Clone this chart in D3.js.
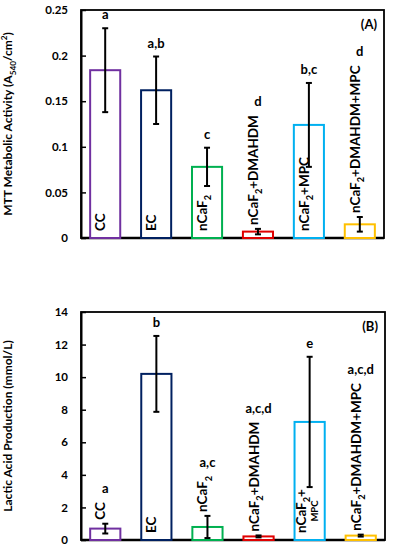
<!DOCTYPE html>
<html>
<head>
<meta charset="utf-8">
<script src="https://cdn.jsdelivr.net/npm/d3@7"></script>
<style>
  body { margin: 0; background: #fff; }
  svg { display: block; font-family: Lato, "Open Sans", sans-serif; font-weight: bold; }
</style>
</head>
<body>
<svg id="chart" width="393" height="550"></svg>
<script>
// groups + colours shared by both panels
var groups = ["CC", "EC", "nCaF2", "nCaF2+DMAHDM", "nCaF2+MPC", "nCaF2+DMAHDM+MPC"];
var barColors = ["#7030a0", "#002060", "#00b050", "#e00000", "#00b0f0", "#ffc000"];

// panel A - MTT
var mttLabels = ["CC", "EC", "nCaF_{2}", "nCaF_{2}+DMAHDM", "nCaF_{2}+MPC", "nCaF_{2}+DMAHDM+MPC"];
var mttMean = [0.184, 0.162, 0.078, 0.007, 0.124, 0.015];
var mttErr = [0.046, 0.037, 0.021, 0.003, 0.046, 0.008];
var mttLetters = ["a", "a,b", "c", "d", "b,c", "d"];
var mttTicks = [0, 0.05, 0.1, 0.15, 0.2, 0.25];

// panel B - lactic acid
var lacLabels = ["CC", "EC", "nCaF_{2}", "nCaF_{2}+DMAHDM", "nCaF_{2}+|MPC", "nCaF_{2}+DMAHDM+MPC"];
var lacMean = [0.7, 10.2, 0.8, 0.22, 7.25, 0.27];
var lacErr = [0.3, 2.33, 0.68, 0.06, 4.0, 0.06];
var lacLetters = ["a", "b", "a,c", "a,c,d", "e", "a,c,d"];
var lacTicks = [0, 2, 4, 6, 8, 10, 12, 14];

var svg = d3.select("#chart");

// writes text with _{sub} and ^{sup} pieces as tspans
function richText(sel, str, size) {
  var re = /(_\{[^}]*\}|\^\{[^}]*\})/;
  var parts = str.split(re).filter(function(p){ return p.length; });
  var shift = 0;
  parts.forEach(function(p) {
    var t = sel.append("tspan");
    var target = 0, txt = p, fs = size;
    if (p[0] == "_") { target = size*0.3; txt = p.slice(2, -1); fs = size*0.68; }
    else if (p[0] == "^") { target = -size*0.4; txt = p.slice(2, -1); fs = size*0.68; }
    t.attr("dy", target - shift).attr("font-size", fs).text(txt);
    shift = target;
  });
}

function panel(opt) {
  var x = d3.scaleBand().domain(groups).range([opt.left, opt.right])
    .paddingInner(0.37).paddingOuter(0.16);
  var y = d3.scaleLinear().domain([0, opt.max]).range([opt.bottom, opt.top]);
  var g = svg.append("g");

  // frame
  g.append("rect")
    .attr("x", opt.left).attr("y", opt.top)
    .attr("width", opt.right - opt.left).attr("height", opt.bottom - opt.top)
    .attr("fill", "none").attr("stroke", "#000").attr("stroke-width", 1.8);

  var ax = g.append("g").attr("transform", "translate(" + opt.left + ",0)")
    .call(d3.axisLeft(y).tickValues(opt.ticks).tickSizeInner(-5).tickSizeOuter(0)
      .tickPadding(13).tickFormat(function(d){ return String(d); }));
  ax.select(".domain").attr("stroke-width", 2);
  ax.selectAll(".tick line").attr("stroke-width", 1.5);
  ax.selectAll(".tick text").attr("font-size", 11.5).attr("font-weight", "bold")
    .attr("font-family", "Lato, sans-serif").attr("fill", "#000");

  g.append("line").attr("x1", opt.left).attr("x2", opt.right)
    .attr("y1", opt.bottom).attr("y2", opt.bottom)
    .attr("stroke", "#000").attr("stroke-width", 2.5);

  var data = groups.map(function(k, i) {
    return { key: k, i: i, mean: opt.mean[i], err: opt.err[i], label: opt.labels[i], letter: opt.letters[i] };
  });

  g.selectAll("rect.bar").data(data).enter().append("rect")
    .attr("class", "bar")
    .attr("x", function(d){ return x(d.key) + 1; })
    .attr("width", x.bandwidth() - 2)
    .attr("y", function(d){ return y(d.mean); })
    .attr("height", function(d){ return y(0) - y(d.mean); })
    .attr("fill", "#fff")
    .attr("stroke", function(d){ return barColors[d.i]; })
    .attr("stroke-width", 2);

  // error bars
  data.forEach(function(d) {
    var cx = x(d.key) + x.bandwidth()/2;
    var eb = g.append("g").attr("stroke", "#000").attr("stroke-width", 2);
    eb.append("line").attr("x1", cx).attr("x2", cx)
      .attr("y1", y(d.mean + d.err)).attr("y2", y(Math.max(0, d.mean - d.err)));
    [d.mean + d.err, Math.max(0, d.mean - d.err)].forEach(function(v) {
      eb.append("line").attr("x1", cx - 3).attr("x2", cx + 3)
        .attr("y1", y(v)).attr("y2", y(v));
    });
  });

  // rotated group labels + letters
  data.forEach(function(d) {
    var cx = x(d.key) + x.bandwidth()/2;
    var lines = d.label.split("|");
    var lg = g.append("g");
    var texts = lines.map(function(line, li) {
      var t = lg.append("text").attr("y", 0).attr("fill", "#000")
        .attr("dy", "0.35em");
      richText(t, line, li == 0 ? 13.5 : 9.5);
      return t;
    });
    var lens = texts.map(function(t){ return t.node().getComputedTextLength(); });
    var len = d3.max(lens);
    if (lines.length > 1) {
      texts.forEach(function(t, li){
        t.attr("text-anchor", "middle").attr("x", len/2).attr("y", li == 0 ? -4 : 8);
      });
    }
    var barPx = y(0) - y(d.mean);
    var start;
    if (barPx > len + 14) start = y(0) - 7;
    else start = y(d.mean + d.err) - 4;
    lg.attr("transform", "translate(" + cx + "," + start + ") rotate(-90)");
    var top = Math.min(start - len, y(d.mean + d.err));
    g.append("text").attr("x", cx).attr("y", top - 9)
      .attr("text-anchor", "middle").attr("font-size", 13).attr("fill", "#000")
      .text(d.letter);
  });

  // panel tag
  g.append("text").attr("x", opt.right - 7).attr("y", opt.top + 19)
    .attr("text-anchor", "end").attr("font-size", 13).text(opt.tag);

  // y title
  var yt = g.append("text")
    .attr("transform", "translate(12," + ((opt.top + opt.bottom)/2) + ") rotate(-90)")
    .attr("text-anchor", "middle").attr("dy", "0.35em").attr("font-size", 12);
  richText(yt, opt.title, 12);
}

panel({
  left: 81, right: 384, top: 10, bottom: 238, max: 0.25,
  ticks: mttTicks, mean: mttMean, err: mttErr, labels: mttLabels, letters: mttLetters,
  tag: "(A)", title: "MTT Metabolic Activity (A_{540}/cm^{2})"
});

panel({
  left: 81, right: 385, top: 312, bottom: 540, max: 14,
  ticks: lacTicks, mean: lacMean, err: lacErr, labels: lacLabels, letters: lacLetters,
  tag: "(B)", title: "Lactic Acid Production (mmol/L)"
});
</script>
</body>
</html>
